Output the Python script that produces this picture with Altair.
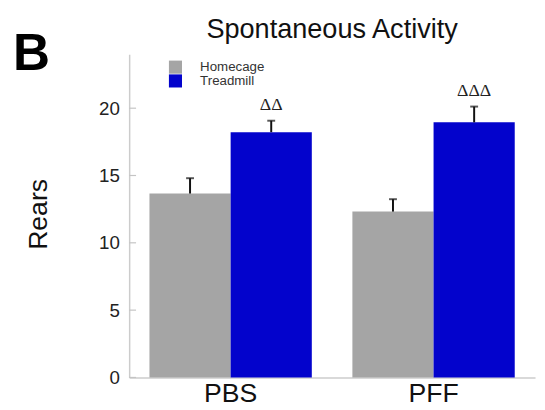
import altair as alt
import pandas as pd

groups = ["PBS", "PBS", "PFF", "PFF"]
conditions = ["Homecage", "Treadmill", "Homecage", "Treadmill"]
means = [13.66, 18.22, 12.32, 18.95]
sems = [1.14, 0.85, 0.92, 1.17]
marks = ["", "ΔΔ", "", "ΔΔΔ"]
y_ticks = [0, 5, 10, 15, 20]
title_text = "Spontaneous Activity"
panel_label = "B"

df = pd.DataFrame({
    "group": groups,
    "condition": conditions,
    "mean": means,
    "upper": [m + s for m, s in zip(means, sems)],
    "mark": marks,
})
ticks_df = pd.DataFrame({"v": y_ticks})

FONT = "Liberation Sans"
GRAY = "#a5a5a5"
BLUE = "#0303cc"

x_enc = alt.X("group:N", sort=["PBS", "PFF"],
              scale=alt.Scale(paddingInner=0.2, paddingOuter=0.1),
              axis=alt.Axis(title=None, labelAngle=0, labelFontSize=27, labelFont=FONT,
                            labelColor="#111", labelPadding=3, ticks=False,
                            domainColor="#cccccc", domainWidth=1.5))
xo_enc = alt.XOffset("condition:N", sort=["Homecage", "Treadmill"],
                     scale=alt.Scale(paddingInner=0, paddingOuter=0))
y_scale = alt.Scale(domain=[0, 24], nice=False, zero=True)

bars = alt.Chart(df).mark_bar().encode(
    x=x_enc,
    xOffset=xo_enc,
    y=alt.Y("mean:Q", scale=y_scale,
            axis=alt.Axis(title="Rears", values=y_ticks, ticks=False, grid=False,
                          labelFontSize=19, labelFont=FONT, labelColor="#222",
                          labelPadding=10, domainColor="#cccccc", domainWidth=1.5,
                          titleFontSize=27, titleFont=FONT, titleFontWeight="normal",
                          titleColor="#111", titleAngle=-90, titleX=-92, titleY=162,
                          titleAlign="center", titleBaseline="middle")),
    color=alt.Color("condition:N", sort=["Homecage", "Treadmill"],
                    scale=alt.Scale(domain=["Homecage", "Treadmill"], range=[GRAY, BLUE]),
                    legend=alt.Legend(title=None, orient="none", legendX=40, legendY=6,
                                      symbolType="square", symbolSize=177,
                                      symbolStrokeWidth=0, rowPadding=0, padding=0,
                                      labelFontSize=13.5, labelFont=FONT, labelColor="#333",
                                      labelOffset=18, labelBaseline="middle")),
)

stems = alt.Chart(df).mark_rule(color="#111", strokeWidth=2).encode(
    x=x_enc, xOffset=xo_enc,
    y=alt.Y("mean:Q", scale=y_scale), y2="upper:Q",
)
caps = alt.Chart(df).mark_tick(color="#111", thickness=2, size=8, orient="horizontal").encode(
    x=x_enc, xOffset=xo_enc,
    y=alt.Y("upper:Q", scale=y_scale),
)
deltas = alt.Chart(df).mark_text(font="Liberation Serif", fontSize=18, color="#222",
                                 baseline="alphabetic", dy=-11).encode(
    x=x_enc, xOffset=xo_enc,
    y=alt.Y("upper:Q", scale=y_scale),
    text="mark:N",
)
yticks = alt.Chart(ticks_df).mark_rule(color="#c4c4c4", strokeWidth=1.2).encode(
    x=alt.value(0), x2=alt.value(7),
    y=alt.Y("v:Q", scale=y_scale),
)
panel = alt.Chart(pd.DataFrame({"t": [panel_label]})).mark_text(
    font=FONT, fontSize=52, fontWeight="bold", color="#000",
    align="left", baseline="alphabetic").encode(
    x=alt.value(-118), y=alt.value(16), text="t:N")
title = alt.Chart(pd.DataFrame({"t": [title_text]})).mark_text(
    font=FONT, fontSize=27.5, color="#111",
    align="center", baseline="alphabetic").encode(
    x=alt.value(206), y=alt.value(-17), text="t:N")

chart = alt.layer(bars, yticks, stems, caps, deltas, panel, title).properties(
    width=412, height=328,
    padding={"left": 123, "top": 44, "right": 2, "bottom": 30},
    autosize=alt.AutoSizeParams(type="none"),
).configure(background="white").configure_view(stroke=None)

chart.save("out.html", embed_options={"renderer": "svg", "actions": False})
